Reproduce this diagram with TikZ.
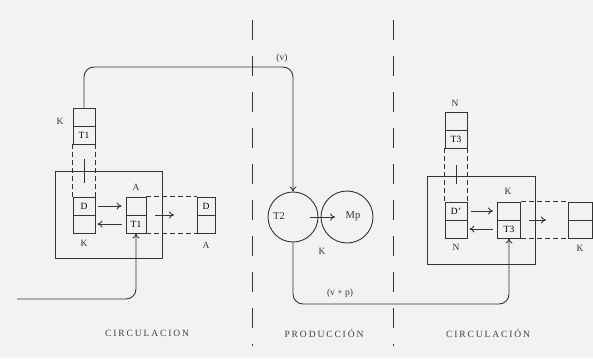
\documentclass[tikz,border=0pt]{standalone}
\usepackage{fontspec}
\setmainfont{Liberation Serif}
\newfontfamily\spaced[LetterSpace=20]{Liberation Serif}
\usetikzlibrary{arrows.meta}
\begin{document}
\begin{tikzpicture}[x=1pt,y=-1pt,
  ink/.style={draw=black!80, line width=0.9pt},
  cell/.style={ink, rectangle, minimum width=22pt, minimum height=18pt, inner sep=0pt, font=\fontsize{9.5}{10}\selectfont},
  bigbox/.style={ink, rectangle, inner sep=0pt},
  circ/.style={ink, circle, inner sep=0pt},
  lbl/.style={inner sep=0pt, font=\fontsize{9.5}{10}\selectfont, text=black!80},
  flow/.style={ink, -{To[length=5pt,width=7pt]}},
  dsh/.style={ink, dash pattern=on 5pt off 3pt},
  sep/.style={draw=black!80, line width=1pt, dash pattern=on 20pt off 16pt},
  bottomlbl/.style={inner sep=0pt, font=\spaced\fontsize{9.5}{10}\selectfont, text=black!75}]
\fill[black!5] (0,0) rectangle (593,358);
\useasboundingbox (0,0) rectangle (593,358);

% separators
\draw[sep] (252,20) -- (252,346);
\draw[sep] (393,20) -- (393,346);

% ---------- left circulation ----------
\node[bigbox, minimum width=107pt, minimum height=87pt] (lbox) at (108.5,214.5) {};
\node[cell] (k1t) at (84,117) {};
\node[cell] (k1b) at (84,135) {T1};
\node[lbl] (k1l) at (60,121) {K};
\node[cell] (d1t) at (84,206) {D};
\node[cell] (d1b) at (84,224) {};
\node[lbl] (d1l) at (84,243) {K};
\node[cell, minimum width=20pt] (a1t) at (136,206) {};
\node[cell, minimum width=20pt] (a1b) at (136,224) {T1};
\node[lbl] (a1l) at (136,187) {A};
\node[cell, minimum width=18pt] (d2t) at (206,206) {D};
\node[cell, minimum width=18pt] (d2b) at (206,224) {};
\node[lbl] (d2l) at (206,245) {A};

\draw[dsh] (k1b.south west) -- (d1t.north west);
\draw[dsh] (k1b.south east) -- (d1t.north east);
\coordinate (tk1a) at (84,159);
\coordinate (tk1b) at (84,183);
\draw[ink] (tk1a) -- (tk1b);

\draw[flow] ([xshift=3pt]d1t.east) -- ([xshift=-4pt]a1t.west);
\draw[flow] ([xshift=-4pt]a1b.west) -- ([xshift=2pt]d1b.east);
\draw[dsh] (a1t.north east) -- (d2t.north west);
\draw[dsh] (a1b.south east) -- (d2b.south west);
\coordinate (ar1a) at (155,215);
\coordinate (ar1b) at (174,215);
\draw[flow] (ar1a) -- (ar1b);

\coordinate (in) at (17,299);
\coordinate (inc) at (136,299);
\draw[flow, rounded corners=10pt] (in) -- (inc) -- (a1b.south);

% ---------- production ----------
\node[circ, minimum size=50pt] (t2) at (293,217) {};
\node[circ, minimum size=52pt] (mp) at (347,217) {};
\node[lbl, font=\fontsize{10.5}{11}\selectfont] (t2l) at (279,216) {T2};
\node[lbl, font=\fontsize{10.5}{11}\selectfont] (mpl) at (353,216) {Mp};
\node[lbl] (kp) at (322,251) {K};
\coordinate (ar2a) at (310,217);
\coordinate (ar2b) at (335,217);
\draw[flow] (ar2a) -- (ar2b);

\coordinate (vtop) at (293,67);
\draw[flow, rounded corners=10pt] (k1t.north) |- (vtop) -- (t2.north);
\node[lbl] (v) at (282,58) {(v)};

\coordinate (vp1) at (293,304);
\coordinate (vp2) at (509,304);

% ---------- right circulation ----------
\node[bigbox, minimum width=108pt, minimum height=88pt] (rbox) at (481,220) {};
\node[cell] (n2t) at (456,121) {};
\node[cell] (n2b) at (456,139) {T3};
\node[lbl] (n2l) at (455,103) {N};
\node[cell] (d3t) at (456,211) {D'};
\node[cell] (d3b) at (456,229) {};
\node[lbl] (d3l) at (456,247) {N};
\node[cell, minimum width=23pt] (k2t) at (509,211) {};
\node[cell, minimum width=23pt] (k2b) at (509,229) {T3};
\node[lbl] (k2l) at (508,191) {K};
\node[cell, minimum width=24pt] (k3t) at (580,211) {};
\node[cell, minimum width=24pt] (k3b) at (580,229) {};
\node[lbl] (k3l) at (580,248) {K};

\draw[dsh] (n2b.south west) -- (d3t.north west);
\draw[dsh] (n2b.south east) -- (d3t.north east);
\coordinate (tk2a) at (456,165);
\coordinate (tk2b) at (456,184);
\draw[ink] (tk2a) -- (tk2b);

\draw[flow] ([xshift=4pt]d3t.east) -- ([xshift=-4pt]k2t.west);
\draw[flow] ([xshift=-4pt]k2b.west) -- ([xshift=2pt]d3b.east);
\draw[dsh] (k2t.north east) -- (k3t.north west);
\draw[dsh] (k2b.south east) -- (k3b.south west);
\coordinate (ar3a) at (529,220);
\coordinate (ar3b) at (546,220);
\draw[flow] (ar3a) -- (ar3b);

\draw[flow, rounded corners=10pt] (t2.south) -- (vp1) -- (vp2) -- (k2b.south);
\node[lbl] (vpl) at (340,293) {(v + p)};

% bottom labels
\node[bottomlbl] (c1) at (147,333) {CIRCULACION};
\node[bottomlbl] (pr) at (324,333) {PRODUCCIÓN};
\node[bottomlbl] (c2) at (488,333) {CIRCULACIÓN};
\end{tikzpicture}
\end{document}
